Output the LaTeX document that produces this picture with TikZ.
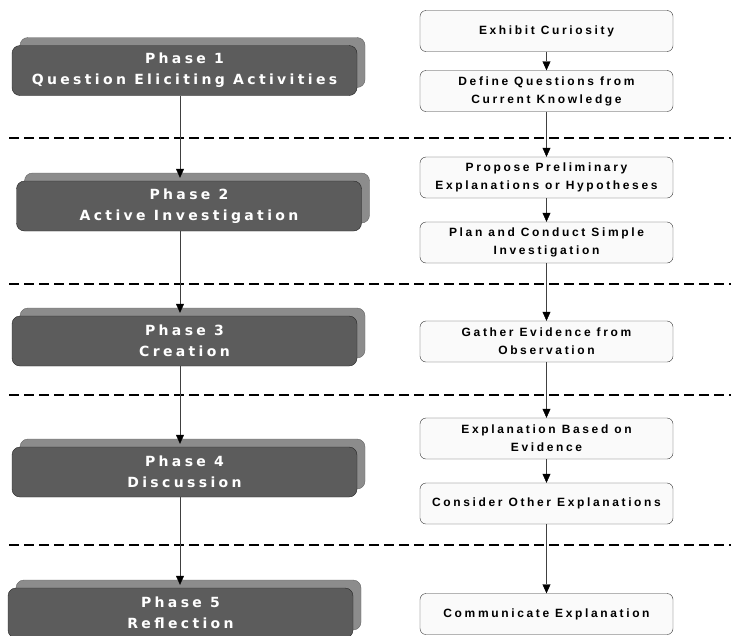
\documentclass[tikz,border=0pt]{standalone}
\usepackage{fontspec}
\usepackage{tikz}
\usetikzlibrary{arrows.meta,shadows}
\newfontfamily\phasefont[LetterSpace=24]{DejaVu Sans}
\newfontfamily\stepfont[LetterSpace=22]{Liberation Sans}
\tikzset{
  phasebox/.style={draw=black!85, fill=black!64, rounded corners=8pt,
    minimum width=345pt, minimum height=50pt, inner sep=0pt, align=center,
    text=white, font=\phasefont\bfseries\fontsize{14}{21}\selectfont,
    general shadow={shadow xshift=8pt, shadow yshift=8pt, fill=black!45, draw=black!60}},
  stepbox/.style={draw=black!80, fill=black!2, rounded corners=6pt,
    minimum width=253pt, minimum height=41pt, inner sep=0pt, align=center,
    font=\stepfont\bfseries\fontsize{12}{18}\selectfont},
  flow/.style={draw=black!75, -{Triangle[length=9pt,width=8pt,black]}},
  divider/.style={dash pattern=on 10pt off 5pt, line width=1.5pt}
}
\begin{document}
\begin{tikzpicture}[x=1pt, y=-1pt]
  \useasboundingbox (0,0) rectangle (731,635);
  % phases
  \node[phasebox] (p1) at (184.5,70.5) {Phase 1\\Question Eliciting Activities};
  \node[phasebox] (p2) at (189,206) {Phase 2\\Active Investigation};
  \node[phasebox] (p3) at (184.5,341) {Phase 3\\Creation};
  \node[phasebox] (p4) at (184.5,472) {Phase 4\\Discussion};
  \node[phasebox] (p5) at (180.5,613) {Phase 5\\Reflection};
  % steps
  \node[stepbox] (curious) at (546.5,31) {Exhibit Curiosity};
  \node[stepbox] (define) at (546.5,91) {Define Questions from\\Current Knowledge};
  \node[stepbox] (propose) at (546.5,177.5) {Propose Preliminary\\Explanations or Hypotheses};
  \node[stepbox] (plan) at (546.5,242.5) {Plan and Conduct Simple\\Investigation};
  \node[stepbox] (gather) at (546.5,341.5) {Gather Evidence from\\Observation};
  \node[stepbox] (explain) at (546.5,438.5) {Explanation Based on\\Evidence};
  \node[stepbox] (consider) at (546.5,503.5) {Consider Other Explanations};
  \node[stepbox] (communicate) at (546.5,614) {Communicate Explanation};
  % dividers
  \foreach \y in {138,284,395,545}
    \draw[divider] (9,\y) -- (731,\y);
  % connectors
  \draw[flow] ([xshift=-4.5pt]p1.south) -- ([xshift=-9pt,yshift=3pt]p2.north);
  \draw[flow] ([xshift=-9pt]p2.south) -- ([xshift=-4.5pt,yshift=3pt]p3.north);
  \draw[flow] ([xshift=-4.5pt]p3.south) -- ([xshift=-4.5pt,yshift=3pt]p4.north);
  \draw[flow] ([xshift=-4.5pt]p4.south) -- ([xshift=-0.5pt,yshift=3pt]p5.north);
  \draw[flow] (curious) -- (define);
  \draw[flow] (define) -- (propose);
  \draw[flow] (propose) -- (plan);
  \draw[flow] (plan) -- (gather);
  \draw[flow] (gather) -- (explain);
  \draw[flow] (explain) -- (consider);
  \draw[flow] (consider) -- (communicate);
\end{tikzpicture}
\end{document}
